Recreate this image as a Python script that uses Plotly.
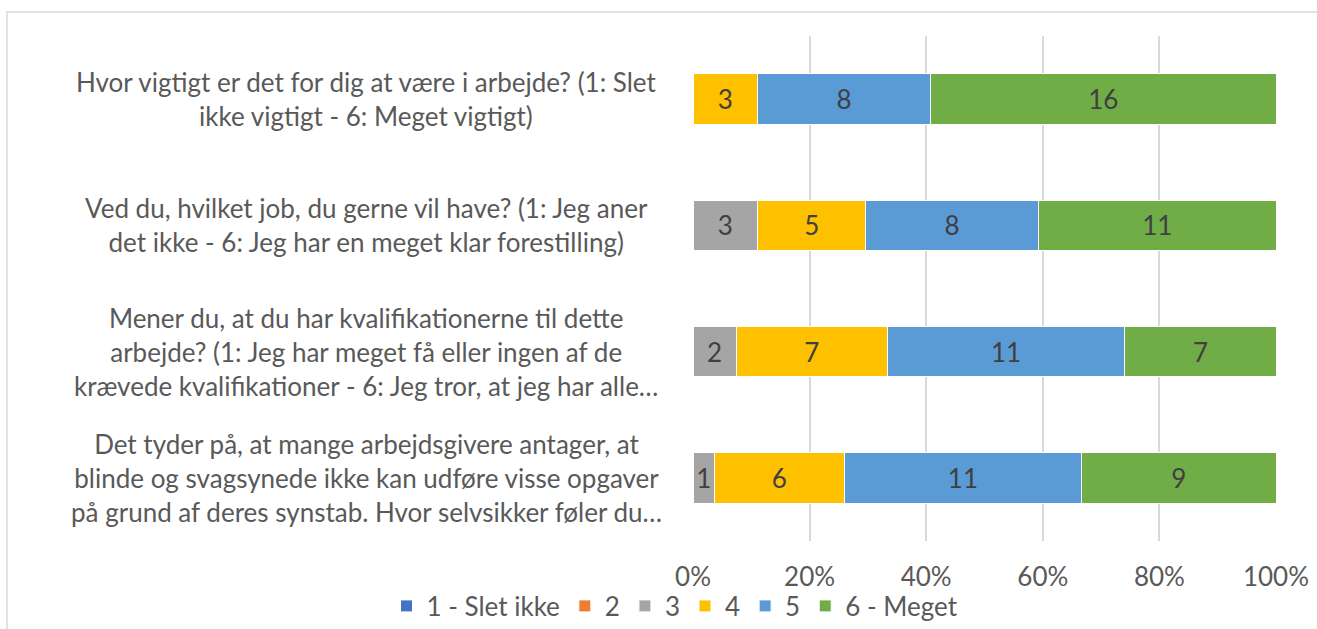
import plotly.graph_objects as go

questions = [
    "Hvor vigtigt er det for dig at være i arbejde? (1: Slet<br>ikke vigtigt - 6: Meget vigtigt)",
    "Ved du, hvilket job, du gerne vil have? (1: Jeg aner<br>det ikke - 6: Jeg har en meget klar forestilling)",
    "Mener du, at du har kvalifikationerne til dette<br>arbejde? (1: Jeg har meget få eller ingen af de<br>krævede kvalifikationer - 6: Jeg tror, at jeg har alle…",
    "Det tyder på, at mange arbejdsgivere antager, at<br>blinde og svagsynede ikke kan udføre visse opgaver<br>på grund af deres synstab. Hvor selvsikker føler du…",
]
keys = ["Q1", "Q2", "Q3", "Q4"]

series_names = ["1 - Slet ikke", "2", "3", "4", "5", "6 - Meget"]
s1 = [0, 0, 0, 0]
s2 = [0, 0, 0, 0]
s3 = [0, 3, 2, 1]
s4 = [3, 5, 7, 6]
s5 = [8, 8, 11, 11]
s6 = [16, 11, 7, 9]
series_values = [s1, s2, s3, s4, s5, s6]
colors = ["#4472C4", "#ED7D31", "#A5A5A5", "#FFC000", "#5B9BD5", "#70AD47"]

tick_vals = [0, 20, 40, 60, 80, 100]
tick_text = ["0%", "20%", "40%", "60%", "80%", "100%"]

FONT = "Lato, sans-serif"
FS = 26

fig = go.Figure()
for name, vals, col in zip(series_names, series_values, colors):
    fig.add_trace(go.Bar(
        y=keys, x=vals, name=name, orientation="h",
        marker=dict(color=col, line=dict(color="white", width=1)),
        text=[str(v) if v else "" for v in vals],
        textposition="inside", insidetextanchor="middle",
        constraintext="none",
        textfont=dict(family=FONT, size=FS, color="#404040"),
        hoverinfo="skip",
    ))

W, H = 1317, 629
L, R, T, B = 693, 41, 36, 88
pw, ph = W - L - R, H - T - B

def px_x(x):
    return (x - L) / pw

def px_y(y):
    return (H - B - y) / ph

for k, q in zip(keys, questions):
    fig.add_annotation(
        x=px_x(366), xref="paper", y=k, yref="y",
        text=q, showarrow=False, xanchor="center", yanchor="middle",
        align="center", font=dict(family=FONT, size=FS, color="#595959"),
    )

fig.add_shape(type="rect", xref="paper", yref="paper",
              x0=px_x(7), x1=px_x(1330), y0=px_y(640), y1=px_y(12),
              line=dict(color="#d9d9d9", width=1.5), layer="below")

fig.update_layout(
    width=W, height=H,
    margin=dict(l=L, r=R, t=T, b=B),
    barmode="stack", barnorm="percent", bargap=0.6,
    plot_bgcolor="white", paper_bgcolor="white",
    font=dict(family=FONT, color="#595959", size=FS),
    xaxis=dict(range=[0, 100], tickvals=tick_vals, ticktext=tick_text,
               showgrid=True, gridcolor="#d9d9d9", gridwidth=1.5,
               zeroline=False, showline=False, ticks="",
               ticklabelstandoff=18, automargin=False,
               tickfont=dict(family=FONT, size=FS, color="#595959")),
    yaxis=dict(autorange="reversed", showticklabels=False, showgrid=False,
               zeroline=False, showline=False, ticks="", automargin=False),
    legend=dict(orientation="h", xref="container", yref="container",
                x=675 / W, xanchor="center",
                y=1 - 606 / H, yanchor="middle",
                bgcolor="rgba(0,0,0,0)",
                font=dict(family=FONT, size=FS, color="#595959"),
                itemwidth=30, traceorder="normal"),
    showlegend=True,
)

fig.write_html("out.html", config={"displayModeBar": False},
               post_script="document.body.style.margin='0';")
